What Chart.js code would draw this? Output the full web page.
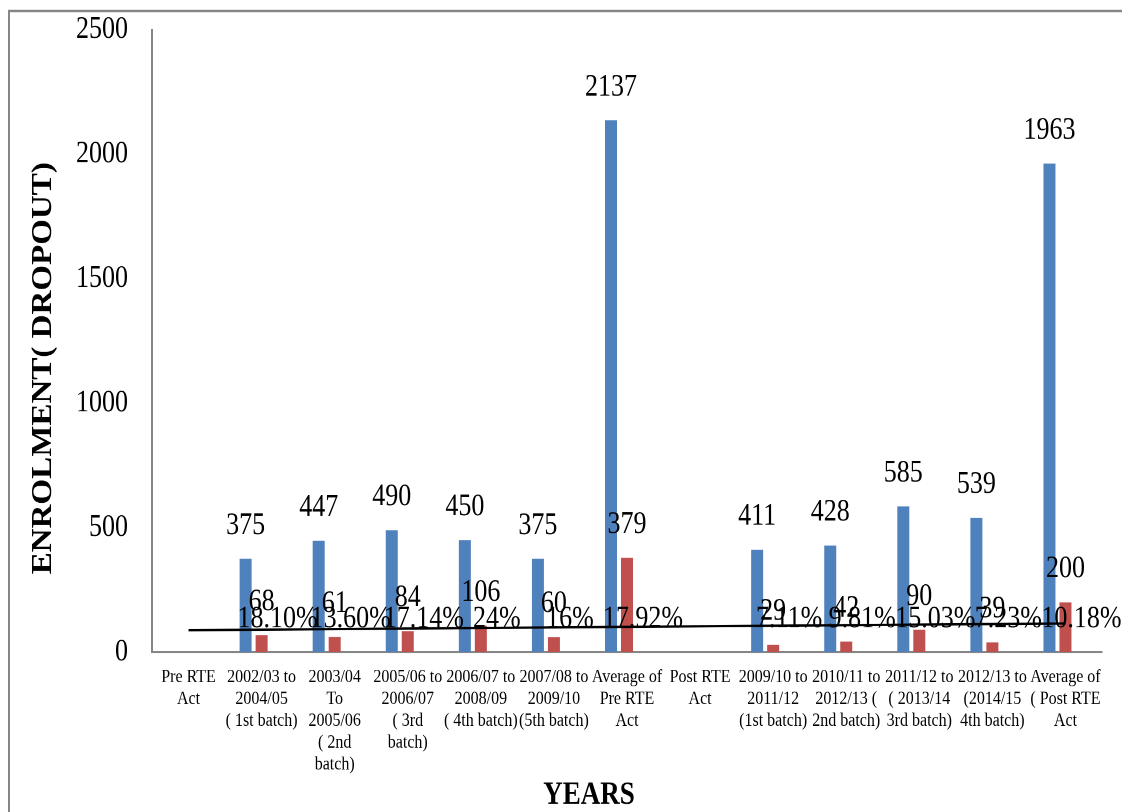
<!DOCTYPE html>
<html>
<head>
<meta charset="utf-8">
<script src="https://cdn.jsdelivr.net/npm/chart.js@4/dist/chart.umd.min.js"></script>
<style>
  html, body { margin: 0; padding: 0; background: #ffffff; overflow: hidden; }
  /* the chart is laid out at 1122x688 and stretched vertically to fill the 812px page */
  #wrap { position: absolute; left: 0; top: 0; width: 1122px; height: 688px;
          transform: scaleY(1.1802); transform-origin: 0 0; }
  canvas { display: block; }
</style>
</head>
<body>
<div id="wrap"><canvas id="chart"></canvas></div>
<script>
// Batches, before and after the RTE Act
const categories = [
  ['Pre RTE', 'Act'],
  ['2002/03 to', '2004/05', '( 1st batch)'],
  ['2003/04', 'To', '2005/06', '( 2nd', 'batch)'],
  ['2005/06 to', '2006/07', '( 3rd', 'batch)'],
  ['2006/07 to', '2008/09', '( 4th batch)'],
  ['2007/08 to', '2009/10', '(5th batch)'],
  ['Average of', 'Pre RTE', 'Act'],
  ['Post RTE', 'Act'],
  ['2009/10 to', '2011/12', '(1st batch)'],
  ['2010/11 to', '2012/13 (', '2nd batch)'],
  ['2011/12 to', '( 2013/14', '3rd batch)'],
  ['2012/13 to', '(2014/15', '4th batch)'],
  ['Average of', '( Post RTE', 'Act']
];

const enrolment = [null, 375, 447, 490, 450, 375, 2137, null, 411, 428, 585, 539, 1963];
const dropout   = [null, 68, 61, 84, 106, 60, 379, null, 29, 42, 90, 39, 200];
const dropoutRate = [null, '18.10%', '13.60%', '17.14%', '24%', '16%', '17.92%', null,
                     '7.11%', '9.81%', '15.03%', '7.23%', '10.18%'];
// straight reference line across the batches
const trendLine = [88, null, null, null, null, null, null, null, null, null, null, null, 115];

const yMax = 2500;
const yStep = 500;

const SERIF = '"Liberation Serif", "Times New Roman", serif';
const AXIS_GREY = '#868686';

const rateValues = dropoutRate.map(s => (s === null ? null : parseFloat(s) / 100));

// value labels drawn above each bar
const barLabels = {
  id: 'barLabels',
  afterDatasetsDraw(chart) {
    const ctx = chart.ctx;
    ctx.save();
    ctx.font = '26px ' + SERIF;
    ctx.fillStyle = '#000000';
    ctx.textAlign = 'center';
    ctx.textBaseline = 'middle';
    chart.data.datasets.forEach((ds, di) => {
      if (ds.type === 'line') return;
      const meta = chart.getDatasetMeta(di);
      meta.data.forEach((el, i) => {
        const v = ds.data[i];
        if (v === null || v === undefined) return;
        const text = ds.labelText ? ds.labelText[i] : String(v);
        ctx.fillText(text, el.x, el.y - 28);
      });
    });
    ctx.restore();
  }
};

// axis titles and the outer frame
const chrome = {
  id: 'chrome',
  afterDraw(chart) {
    const ctx = chart.ctx;
    ctx.save();
    ctx.strokeStyle = AXIS_GREY;
    ctx.lineWidth = 2;
    ctx.strokeRect(9, 9.3, 1200, 800);

    ctx.fillStyle = '#000000';
    ctx.font = 'bold 27px ' + SERIF;
    ctx.textAlign = 'center';
    ctx.textBaseline = 'middle';
    ctx.fillText('YEARS', 589, 674);

    ctx.translate(44, 312);
    ctx.rotate(-Math.PI / 2);
    ctx.font = 'bold 28px ' + SERIF;
    ctx.fillText('ENROLMENT( DROPOUT)', 0, 0);
    ctx.restore();
  }
};

new Chart(document.getElementById('chart'), {
  type: 'bar',
  data: {
    labels: categories,
    datasets: [
      {
        type: 'line',
        label: 'Trend',
        data: trendLine,
        spanGaps: true,
        borderColor: '#000000',
        borderWidth: 2,
        pointRadius: 0,
        fill: false,
        order: 0
      },
      {
        label: 'Enrolment',
        data: enrolment,
        backgroundColor: '#4F81BD',
        order: 1
      },
      {
        label: 'Dropout',
        data: dropout,
        backgroundColor: '#C0504D',
        order: 1
      },
      {
        label: 'Dropout rate',
        data: rateValues,
        labelText: dropoutRate,
        backgroundColor: 'rgba(0,0,0,0)',
        order: 1
      }
    ]
  },
  options: {
    responsive: true,
    maintainAspectRatio: false,
    animation: false,
    devicePixelRatio: 2,
    layout: { padding: { left: 0, right: 20, top: 25.4, bottom: 0 } },
    datasets: {
      bar: { categoryPercentage: 0.657, barPercentage: 0.75 }
    },
    plugins: {
      legend: { display: false },
      tooltip: { enabled: false }
    },
    scales: {
      x: {
        grid: { display: false, drawTicks: false },
        border: { display: true, color: AXIS_GREY, width: 2 },
        ticks: {
          autoSkip: false,
          maxRotation: 0,
          minRotation: 0,
          padding: 12,
          color: '#000000',
          font: { family: SERIF, size: 16, lineHeight: 1.16 }
        },
        afterFit(scale) { scale.height = 135.5; }
      },
      y: {
        min: 0,
        max: yMax,
        grid: { display: false, drawTicks: false },
        border: { display: true, color: AXIS_GREY, width: 2 },
        ticks: {
          stepSize: yStep,
          padding: 24,
          color: '#000000',
          font: { family: SERIF, size: 26 },
          callback: value => String(value)
        },
        afterFit(scale) {
          scale.width = 152;
          scale.paddingTop = 0;
          scale.paddingBottom = 0;
        }
      }
    }
  },
  plugins: [barLabels, chrome]
});
</script>
</body>
</html>
